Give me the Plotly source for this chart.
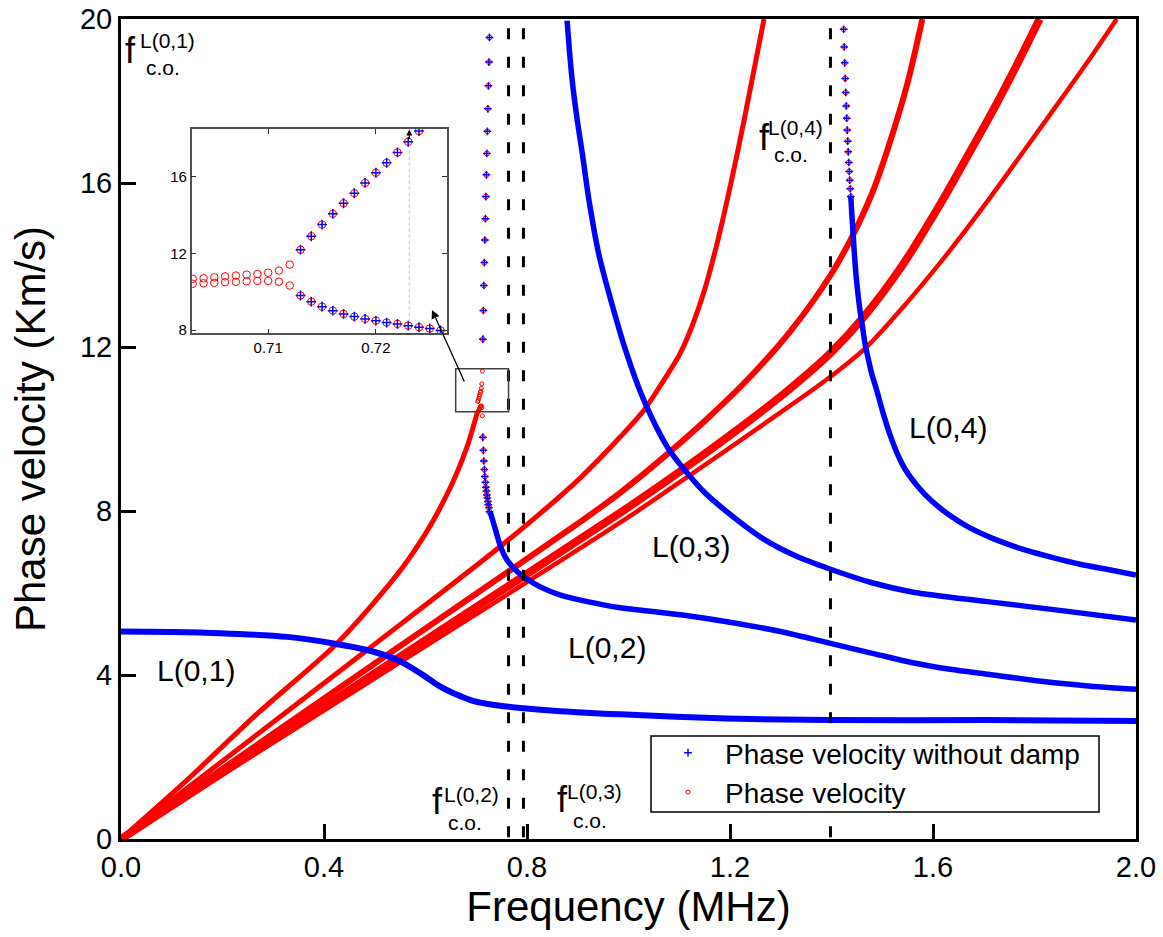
import plotly.graph_objects as go

# ------------------------------------------------------------------ data
# Undamped (blue) dispersion branches, frequency in MHz, phase velocity in km/s
l01_f = [0.0, 0.10, 0.196, 0.327, 0.419, 0.485, 0.544, 0.59, 0.63, 0.66, 0.689, 0.72, 0.754, 0.853, 0.984, 1.194, 1.398, 1.707, 2.0]
l01_v = [5.06, 5.05, 5.02, 4.93, 4.77, 4.61, 4.37, 4.04, 3.71, 3.53, 3.39, 3.30, 3.24, 3.13, 3.04, 2.94, 2.90, 2.90, 2.88]

l02_f = [0.726, 0.728, 0.738, 0.748, 0.761, 0.781, 0.800, 0.826, 0.866, 0.919, 0.984, 1.047, 1.12, 1.194, 1.304,
         1.398, 1.487, 1.56, 1.634, 1.707, 1.817, 1.9, 2.0]
l02_v = [7.98, 7.94, 7.54, 7.13, 6.80, 6.52, 6.34, 6.15, 5.95, 5.79, 5.64, 5.55, 5.44, 5.30, 5.05,
         4.77, 4.51, 4.30, 4.14, 4.02, 3.84, 3.74, 3.65]

l03_f = [0.879, 0.883, 0.889, 0.898, 0.909, 0.922, 0.941, 0.965, 0.994, 1.030, 1.077, 1.114, 1.15, 1.194, 1.268,
         1.33, 1.398, 1.48, 1.561, 1.707, 1.854, 2.0]
l03_v = [19.96, 19.32, 18.51, 17.62, 16.72, 15.59, 14.29, 13.15, 11.93, 10.71, 9.55, 8.95, 8.45, 7.98, 7.30,
         6.90, 6.58, 6.25, 6.02, 5.79, 5.57, 5.34]

l04_sparse_f = [1.424, 1.425, 1.426, 1.427, 1.428, 1.429, 1.430, 1.431, 1.432, 1.433, 1.434, 1.435, 1.436, 1.437, 1.438]
l04_sparse_v = [19.75, 19.32, 18.93, 18.55, 18.21, 17.88, 17.58, 17.29, 17.02, 16.76, 16.50, 16.28, 16.07, 15.86, 15.67]
l04_f = [1.438, 1.440, 1.4425, 1.445, 1.448, 1.452, 1.456, 1.461, 1.466, 1.473, 1.479, 1.489, 1.500, 1.512, 1.528,
         1.546, 1.57, 1.597, 1.63, 1.671, 1.72, 1.781, 1.84, 1.890, 1.95, 2.0]
l04_v = [15.67, 15.26, 14.77, 14.29, 13.80, 13.31, 12.90, 12.50, 12.09, 11.68, 11.36, 10.95, 10.46, 9.98, 9.45,
         9.00, 8.60, 8.25, 7.92, 7.60, 7.32, 7.05, 6.85, 6.70, 6.56, 6.44]

# Branches around the L(0,1)/L(0,2) crossing (shown in the inset)
pre_f = [0.703, 0.704, 0.705, 0.706, 0.707, 0.708, 0.709, 0.710, 0.711, 0.712]
pre_upper = [10.67, 10.70, 10.75, 10.80, 10.84, 10.89, 10.92, 10.99, 11.10, 11.41]
pre_lower = [10.41, 10.44, 10.46, 10.49, 10.51, 10.54, 10.56, 10.56, 10.52, 10.32]
post_f = [0.713, 0.714, 0.715, 0.716, 0.717, 0.718, 0.719, 0.720, 0.721, 0.722, 0.723, 0.724, 0.725, 0.726]
post_upper = [12.19, 12.89, 13.50, 14.06, 14.61, 15.13, 15.67, 16.20, 16.72, 17.26, 17.81, 18.37, 18.95, 19.55]
post_lower = [9.80, 9.48, 9.22, 9.01, 8.84, 8.70, 8.58, 8.49, 8.39, 8.32, 8.23, 8.15, 8.08, 7.98]

# Damped (red) branches
redA_f = [0.0, 0.1304, 0.2617, 0.360, 0.419, 0.4916, 0.557, 0.60, 0.623, 0.656, 0.682, 0.702]
redA_v = [0.0, 1.44, 2.98, 4.04, 4.69, 5.67, 6.66, 7.45, 7.94, 8.76, 9.57, 10.40]
redB_f = [0.0, 0.485, 0.754, 0.901, 0.984, 1.030, 1.070, 1.100, 1.125, 1.150, 1.178, 1.214, 1.240, 1.267]
redB_v = [0.0, 4.61, 7.20, 8.76, 9.81, 10.45, 11.20, 11.80, 12.50, 13.40, 14.70, 16.70, 18.30, 20.0]
redC_f = [0.0, 0.522, 0.901, 0.984, 1.07, 1.155, 1.238, 1.32, 1.398, 1.441, 1.48, 1.51, 1.549, 1.579]
redC_v = [0.0, 4.47, 7.70, 8.45, 9.32, 10.25, 11.25, 12.40, 13.75, 14.70, 15.75, 16.80, 18.40, 20.0]
redD_f = [0.0, 0.542, 0.984, 1.10, 1.24, 1.32, 1.398, 1.464, 1.54, 1.615, 1.67, 1.726, 1.77, 1.81]
redD_v = [0.0, 4.38, 7.96, 8.95, 10.22, 11.0, 11.85, 12.74, 14.0, 15.5, 16.7, 17.95, 19.0, 20.0]
redE_f = [0.0, 0.542, 0.984, 1.13, 1.27, 1.39, 1.47, 1.55, 1.63, 1.707, 1.78, 1.851, 1.91, 1.962]
redE_v = [0.0, 4.25, 7.72, 8.95, 10.15, 11.2, 12.01, 13.1, 14.3, 15.55, 16.8, 18.02, 19.05, 20.0]

cutoff_f = [0.7636, 0.793, 1.398]

x_ticks = [0.0, 0.4, 0.8, 1.2, 1.6, 2.0]
y_ticks = [0, 4, 8, 12, 16, 20]
inset_x_ticks = [0.71, 0.72]
inset_y_ticks = [8, 12, 16]

# ------------------------------------------------------------------ layout helpers
W, H = 1163, 937
ML, MR, MT, MB = 121, 27, 19, 98
PW, PH = W - ML - MR, H - MT - MB
XR, YR = [0, 2.0], [0, 20]


def dx(px):
    return XR[0] + (px - ML) / PW * (XR[1] - XR[0])


def dy(py):
    return YR[0] + (MT + PH - py) / PH * (YR[1] - YR[0])


def ppx(px):
    return (px - ML) / PW


def ppy(py):
    return (MT + PH - py) / PH


FONT = "Liberation Sans, Arial, Helvetica, sans-serif"
RED = "#ff0000"
BLUE = "#0000ff"

fig = go.Figure()


def red_line(f, v, w):
    fig.add_trace(go.Scatter(x=f, y=v, mode="lines", line=dict(color=RED, width=w, shape="spline", smoothing=0.8),
                             showlegend=False, hoverinfo="skip"))


def blue_line(f, v, w=5.5):
    fig.add_trace(go.Scatter(x=f, y=v, mode="lines", line=dict(color=BLUE, width=w, shape="spline", smoothing=0.8),
                             showlegend=False, hoverinfo="skip"))


def red_pts(f, v, size, xa="x", ya="y", legend=False):
    fig.add_trace(go.Scatter(x=f, y=v, mode="markers", xaxis=xa, yaxis=ya,
                             marker=dict(symbol="circle-open", size=size, color=RED, line=dict(color=RED, width=1)),
                             name="Phase velocity", showlegend=legend, legendrank=2, hoverinfo="skip"))


def blue_pts(f, v, size, xa="x", ya="y", legend=False):
    fig.add_trace(go.Scatter(x=f, y=v, mode="markers", xaxis=xa, yaxis=ya,
                             marker=dict(symbol="cross-thin", size=size, color=BLUE, line=dict(color=BLUE, width=1.5)),
                             name="Phase velocity without damp", showlegend=legend, legendrank=1, hoverinfo="skip"))


# red damped curves
red_line(redA_f, redA_v, 5)
red_line(redB_f, redB_v, 5)
red_line(redC_f, redC_v, 6)
red_line(redD_f, redD_v, 8)
red_line(redE_f, redE_v, 4.5)

# red points of sparse parts (main plot)
red_pts(pre_f + pre_f, pre_upper + pre_lower, 4, legend=True)
red_pts(post_f + post_f, post_upper + post_lower, 5)
red_pts(l04_sparse_f, l04_sparse_v, 5)

# blue undamped curves
blue_line(l01_f, l01_v, 6)
blue_line(l02_f, l02_v)
blue_line(l03_f, l03_v)
blue_line(l04_f, l04_v)
blue_pts(post_f + post_f, post_upper + post_lower, 5.5, legend=True)
blue_pts(l04_sparse_f, l04_sparse_v, 5.5)

# inset
red_pts(pre_f + pre_f, pre_upper + pre_lower, 7.5, xa="x2", ya="y2")
red_pts(post_f + post_f, post_upper + post_lower, 7.5, xa="x2", ya="y2")
blue_pts(post_f + post_f, post_upper + post_lower, 7, xa="x2", ya="y2")

# ------------------------------------------------------------------ shapes
shapes = []
for f in cutoff_f:
    shapes.append(dict(type="line", xref="x", yref="y", x0=f, x1=f, y0=dy(28.3), y1=0,
                       line=dict(color="black", width=3, dash="11px,17.5px"), layer="above"))
# zoom box on main plot
shapes.append(dict(type="rect", xref="x", yref="y", x0=dx(455.7), x1=cutoff_f[0], y0=dy(411.7), y1=dy(368.7),
                   line=dict(color="#404040", width=1.5), layer="above"))
# dotted guide in inset
shapes.append(dict(type="line", xref="x2", yref="y2", x0=0.7231, x1=0.7231, y0=8.43, y1=17.39,
                   line=dict(color="#c0c0c0", width=1, dash="dot"), layer="above"))
# legend frame
shapes.append(dict(type="rect", xref="paper", yref="paper", x0=ppx(651), x1=ppx(1099), y0=ppy(812), y1=ppy(736),
                   line=dict(color="black", width=1.5), fillcolor="white", layer="above"))

# ------------------------------------------------------------------ annotations
ann = []
for txt, cx, cy in [("L(0,1)", 196, 670), ("L(0,2)", 607, 647), ("L(0,3)", 690.5, 546), ("L(0,4)", 947.6, 427.5)]:
    ann.append(dict(text=txt, x=dx(cx), y=dy(cy), xref="x", yref="y", showarrow=False,
                    xanchor="center", yanchor="middle", font=dict(family=FONT, size=30, color="black")))

# (superscript, "f" centre, superscript centre, subscript left edge + centre y) in pixels
cutoff_labels = [
    ("L(0,1)", (130.5, 50), (167.4, 40), (143.5, 67)),
    ("L(0,2)", (437.5, 801), (471.3, 794), (446.0, 822)),
    ("L(0,3)", (562.5, 799), (594.0, 791), (571.0, 820)),
    ("L(0,4)", (764.3, 137), (795.8, 127), (772.0, 154)),
]
for sup, fpos, spos, bpos in cutoff_labels:
    ann.append(dict(text="f", x=dx(fpos[0]), y=dy(fpos[1]), xref="x", yref="y", showarrow=False,
                    xanchor="center", yanchor="middle", font=dict(family=FONT, size=36, color="black")))
    ann.append(dict(text=sup, x=dx(spos[0]), y=dy(spos[1]), xref="x", yref="y", showarrow=False,
                    xanchor="center", yanchor="middle", font=dict(family=FONT, size=21, color="black")))
    ann.append(dict(text="c.o.", x=dx(bpos[0]), y=dy(bpos[1]), xref="x", yref="y", showarrow=False,
                    xanchor="left", yanchor="middle", font=dict(family=FONT, size=21, color="black")))

# arrow from zoom box to inset
ann.append(dict(x=dx(432), y=dy(310), ax=dx(465), ay=dy(383), xref="x", yref="y", axref="x", ayref="y",
                text="", showarrow=True, arrowhead=2, arrowsize=1.3, arrowwidth=1.3, arrowcolor="black"))
# small arrow in inset
ann.append(dict(x=0.7231, y=18.45, ax=0.7231, ay=17.9, xref="x2", yref="y2", axref="x2", ayref="y2",
                text="", showarrow=True, arrowhead=2, arrowsize=1.0, arrowwidth=1.2, arrowcolor="black"))

# ------------------------------------------------------------------ layout
inset_x0, inset_x1 = ppx(191.7), ppx(447)
inset_y0, inset_y1 = ppy(333.3), ppy(129)

axis_common = dict(showline=True, linecolor="black", linewidth=3, mirror=True,
                   ticks="inside", ticklen=15, tickwidth=2.5, tickcolor="black",
                   showgrid=False, zeroline=False, automargin=False,
                   tickfont=dict(size=29, family=FONT, color="black"))
inset_common = dict(showline=True, linecolor="#505050", linewidth=1.5, mirror="allticks",
                    ticks="inside", ticklen=5, tickwidth=1.2, tickcolor="#303030",
                    showgrid=False, zeroline=False, automargin=False,
                    tickfont=dict(size=15, family=FONT, color="black"))

fig.update_layout(
    width=W, height=H, autosize=False,
    margin=dict(l=ML, r=MR, t=MT, b=MB, pad=0, autoexpand=False),
    paper_bgcolor="white", plot_bgcolor="white",
    font=dict(family=FONT, color="black"),
    shapes=shapes, annotations=ann,
    xaxis=dict(range=XR, tickvals=x_ticks, ticktext=[f"{t:.1f}" for t in x_ticks],
               title=dict(text="Frequency (MHz)", font=dict(size=42, family=FONT), standoff=6),
               **axis_common),
    yaxis=dict(range=YR, tickvals=y_ticks, ticktext=[str(t) for t in y_ticks],
               title=dict(text="Phase velocity (Km/s)", font=dict(size=42, family=FONT), standoff=22),
               **axis_common),
    xaxis2=dict(domain=[inset_x0, inset_x1], anchor="y2", range=[0.7029, 0.7266],
                tickvals=inset_x_ticks, ticktext=["0.71", "0.72"], **inset_common),
    yaxis2=dict(domain=[inset_y0, inset_y1], anchor="x2", range=[7.83, 18.48],
                tickvals=inset_y_ticks, ticktext=["8", "12", "16"], **inset_common),
    legend=dict(x=ppx(651), y=ppy(728), xanchor="left", yanchor="top",
                bgcolor="rgba(0,0,0,0)", borderwidth=0,
                font=dict(size=28, family=FONT, color="black"), itemwidth=64, traceorder="normal",
                tracegroupgap=0),
)

fig.write_html("out.html", config={"displayModeBar": False},
               post_script="document.body.style.margin='0px';")
